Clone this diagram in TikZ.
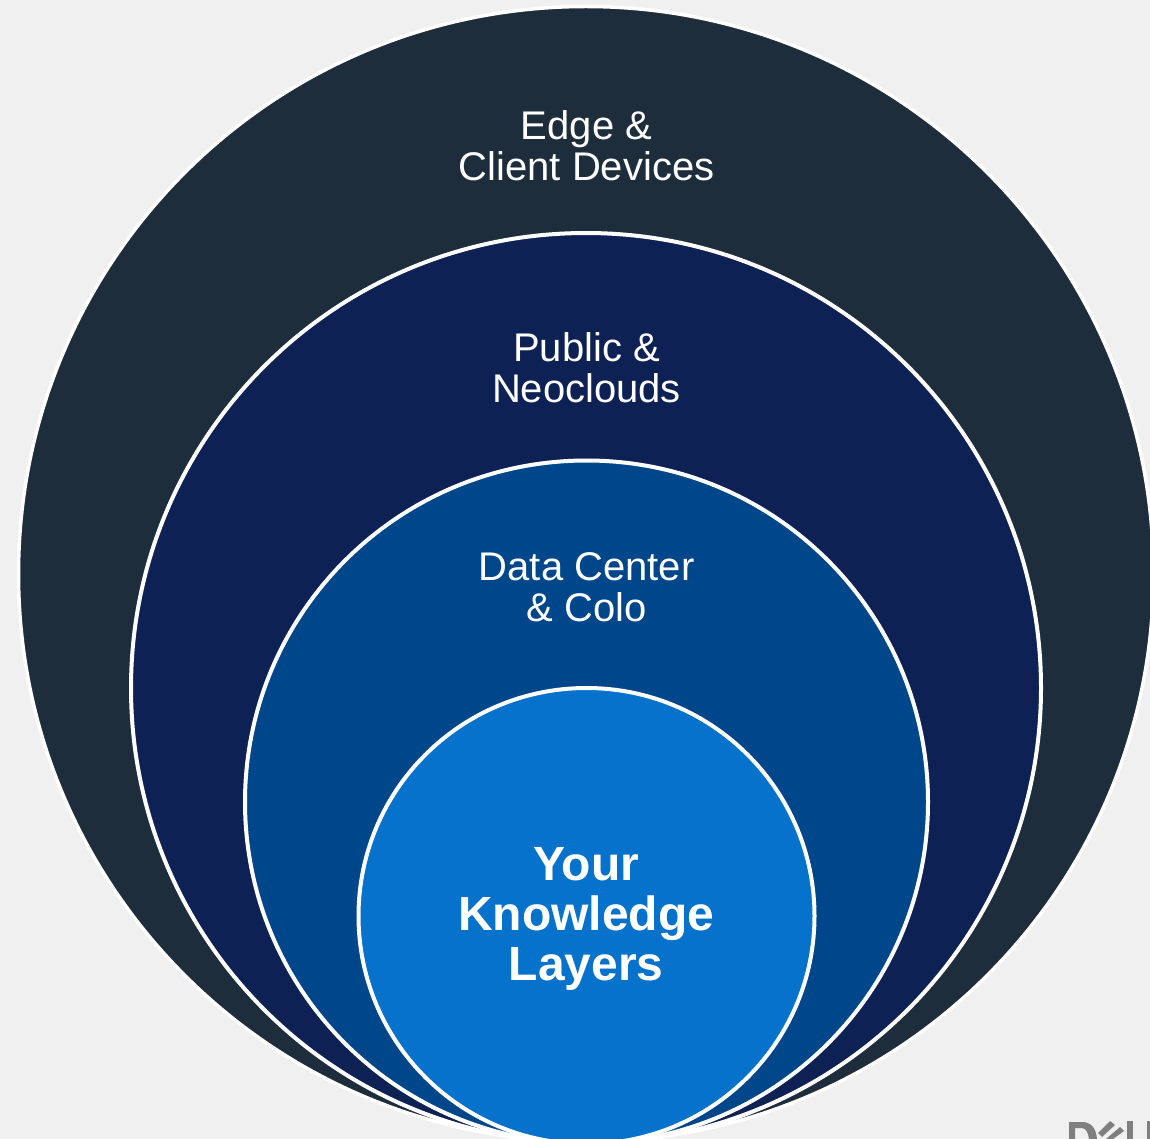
\documentclass[tikz,border=0pt]{standalone}
\usepackage{fontspec}
\setmainfont{Liberation Sans}
\definecolor{bgc}{HTML}{F0F0F0}
\definecolor{ca}{HTML}{1E2D3B}
\definecolor{cb}{HTML}{0E2155}
\definecolor{cc}{HTML}{00468B}
\definecolor{cd}{HTML}{0672CB}
\definecolor{logoc}{HTML}{7F7F7F}
\tikzset{
  ring/.style={circle,draw=white,line width=#1,inner sep=0pt,outer sep=0pt},
  ringlabel/.style={text=white,align=center,inner sep=0pt,font=\fontsize{40}{41}\selectfont},
  corelabel/.style={text=white,align=center,inner sep=0pt,font=\fontsize{48}{50}\selectfont\bfseries},
}
\begin{document}
\begin{tikzpicture}[x=1pt,y=-1pt]
\useasboundingbox (0,0) rectangle (1150,1139);
\clip (0,0) rectangle (1150,1139);
\fill[bgc] (0,0) rectangle (1150,1139);
\node[ring=3.5pt,fill=ca,minimum size=1135pt] (outer) at (586,574) {};
\node[ring=4pt,fill=cb,minimum size=910pt] (cloud) at (586,688) {};
\node[ring=4pt,fill=cc,minimum size=683pt] (dc) at (586.5,802) {};
\node[ring=4pt,fill=cd,minimum size=456pt] (core) at (586.5,916) {};
\node[ringlabel] (t1) at (586.5,146) {Edge \&\\Client Devices};
\node[ringlabel] (t2) at (586.5,368) {Public \&\\Neoclouds};
\node[ringlabel] (t3) at (586.7,587) {Data Center\\\& Colo};
\node[corelabel] (t4) at (586.3,919) {Your\\Knowledge\\Layers};
% clipped logo at the lower right corner
\fill[logoc] (1069,1122) -- (1082,1122) .. controls (1091,1122) and (1096,1128) .. (1097,1139) -- (1089,1139) .. controls (1088,1132) and (1086,1128) .. (1081,1128) -- (1075,1128) -- (1075,1139) -- (1069,1139) -- cycle;
\fill[logoc] (1098,1133) -- (1110,1121) -- (1115,1125) -- (1102,1137) -- cycle;
\fill[logoc] (1106,1139) -- (1120,1127) -- (1124,1131) -- (1113,1139) -- cycle;
\fill[logoc] (1127,1121) rectangle (1133,1139);
\fill[logoc] (1147,1121) rectangle (1150,1139);
\end{tikzpicture}
\end{document}
